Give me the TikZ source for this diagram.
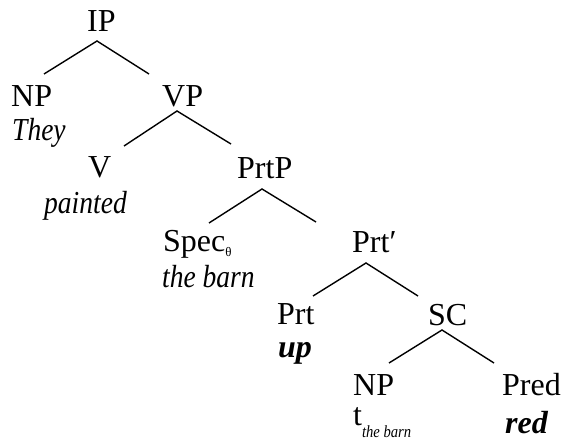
\documentclass[tikz,border=0pt]{standalone}
\usepackage{fontspec}
\setmainfont{Liberation Serif}
\newfontfamily\itnarrow[FakeStretch=0.86]{Liberation Serif}
\begin{document}
\begin{tikzpicture}[x=1pt,y=-1pt,
  lbl/.style={font=\fontsize{32}{38}\selectfont, inner sep=0pt, anchor=base west},
  word/.style={lbl, font=\fontsize{32}{38}\selectfont\itnarrow\itshape},
  boldword/.style={lbl, font=\fontsize{32}{38}\selectfont\bfseries\itshape},
  branch/.style={line width=1.4pt}]
\useasboundingbox (0,0) rectangle (562,441);

% category labels and words
\node[lbl] (ip) at (87,32) {IP};
\node[lbl] (np1) at (11,107) {NP};
\node[word] (they) at (12,140) {They};
\node[lbl] (vp) at (162,107) {VP};
\node[lbl] (v) at (88,177) {V};
\node[word] (painted) at (44,213) {painted};
\node[lbl] (prtp) at (237,178) {PrtP};
\node[lbl] (spec) at (163,251) {Spec\raisebox{-5pt}{\fontsize{13}{15}\selectfont θ}};
\node[word] (barn) at (162,287) {the barn};
\node[lbl] (prtbar) at (352,252) {Prt′};
\node[lbl] (prt) at (277,324) {Prt};
\node[boldword] (up) at (278,357) {up};
\node[lbl] (sc) at (428,325) {SC};
\node[lbl] (np2) at (353,395) {NP};
\node[lbl] (trace) at (353,425) {t\raisebox{-12pt}{\fontsize{17}{20}\selectfont\itnarrow\itshape the barn}};
\node[lbl] (pred) at (502,395) {Pred};
\node[boldword] (red) at (505,433) {red};

% branch points
\coordinate (ip-top) at (97,41);
\coordinate (ip-l) at (44,74);
\coordinate (ip-r) at (149,74);
\coordinate (vp-top) at (177,111);
\coordinate (vp-l) at (124,146);
\coordinate (vp-r) at (231,144);
\coordinate (prtp-top) at (262,189);
\coordinate (prtp-l) at (209,223);
\coordinate (prtp-r) at (316,222);
\coordinate (prtbar-top) at (366,263);
\coordinate (prtbar-l) at (313,296);
\coordinate (prtbar-r) at (418,296);
\coordinate (sc-top) at (442,330);
\coordinate (sc-l) at (389,363);
\coordinate (sc-r) at (494,363);

% branches
\draw[branch] (ip-l) -- (ip-top) -- (ip-r);
\draw[branch] (vp-l) -- (vp-top) -- (vp-r);
\draw[branch] (prtp-l) -- (prtp-top) -- (prtp-r);
\draw[branch] (prtbar-l) -- (prtbar-top) -- (prtbar-r);
\draw[branch] (sc-l) -- (sc-top) -- (sc-r);
\end{tikzpicture}
\end{document}
